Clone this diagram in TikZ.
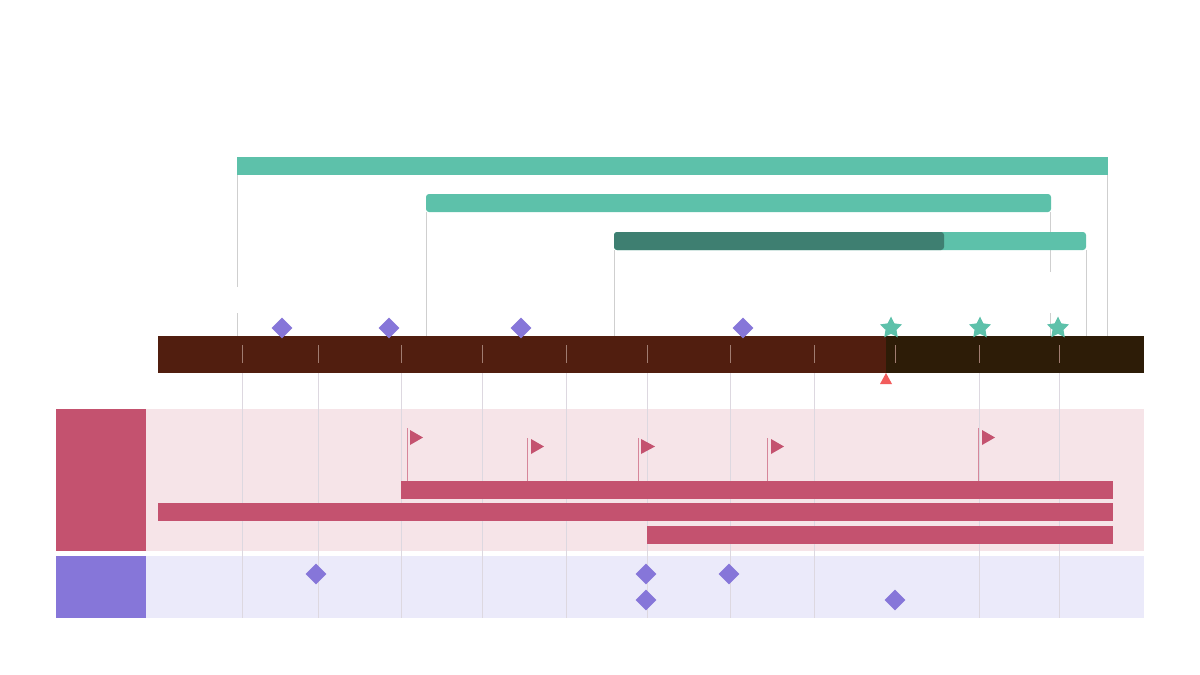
\documentclass[tikz,border=0pt]{standalone}
\usetikzlibrary{shapes.geometric}
\definecolor{brownbar}{HTML}{511E0F}
\definecolor{darkbar}{HTML}{2D1C07}
\definecolor{teal1}{HTML}{5DC1AA}
\definecolor{teal2}{HTML}{3E7F71}
\definecolor{pinkc}{HTML}{C4526F}
\definecolor{pinkbg}{HTML}{F6E4E8}
\definecolor{purc}{HTML}{8676D9}
\definecolor{purbg}{HTML}{EBEAFA}
\definecolor{gridc}{HTML}{DDD8E0}
\definecolor{phasec}{HTML}{CFCFCF}
\definecolor{tickc}{HTML}{A07C70}
\definecolor{nowc}{HTML}{F25C5C}
\tikzset{
  gridline/.style={draw=gridc, line width=0.6pt},
  phaseline/.style={draw=phasec, line width=0.7pt},
  tickline/.style={draw=tickc, line width=0.6pt},
  msdia/.style={diamond, fill=purc, draw=none, minimum size=21pt, inner sep=0pt},
  msstar/.style={star, star points=5, star point ratio=2.0, fill=teal1, draw=none, minimum size=23pt, inner sep=0pt},
  flagpole/.style={draw=pinkc!70, line width=0.6pt},
  flagtri/.style={fill=pinkc},
  pinkbar/.style={fill=pinkc},
}
\begin{document}
\begin{tikzpicture}[x=1pt,y=-1pt]
\useasboundingbox[fill=white] (0,0) rectangle (1200,675);

% lane backgrounds
\fill[pinkbg] (146,409) rectangle (1144,551);
\fill[purbg] (146,556) rectangle (1144,618);
\fill[pinkc] (56,409) rectangle (146,551);
\fill[purc] (56,556) rectangle (146,618);

% grid lines below bar
\foreach \gx in {242,318,401,482,566,647,730,814,979,1059}
  \draw[gridline] (\gx,373) -- (\gx,618);

% phase lines above bar
\draw[phaseline] (237,175) -- (237,287);
\draw[phaseline] (237,313) -- (237,336);
\draw[phaseline] (426,212) -- (426,336);
\draw[phaseline] (614,250) -- (614,336);
\draw[phaseline] (1050,212) -- (1050,272);
\draw[phaseline] (1050,313) -- (1050,336);
\draw[phaseline] (1086,250) -- (1086,336);
\draw[phaseline] (1107,175) -- (1107,336);

% phase bars
\fill[teal1] (237,157) rectangle (1108,175);
\fill[teal1, rounded corners=3pt] (426,194) rectangle (1051,212);
\fill[teal1, rounded corners=3pt] (614,232) rectangle (1086,250);
\fill[teal2, rounded corners=3pt] (614,232) rectangle (944,250);

% timeline bar
\fill[brownbar] (158,336) rectangle (886,373);
\fill[darkbar] (886,336) rectangle (1144,373);
\foreach \tx in {242,318,401,482,566,647,730,814,895,979,1059}
  \draw[tickline] (\tx,345) -- (\tx,363);

% now marker
\fill[nowc] (886,373) -- (892,384) -- (880,384) -- cycle;

% milestones on bar
\node[msdia] (m1) at (282,328) {};
\node[msdia] (m2) at (389,328) {};
\node[msdia] (m3) at (521,328) {};
\node[msdia] (m4) at (743,328) {};
\node[msstar] (s1) at (891,328) {};
\node[msstar] (s2) at (980,328) {};
\node[msstar] (s3) at (1058,328) {};

% flags
\draw[flagpole] (407,428) -- (407,481);
\fill[flagtri] (410,430) -- (423,437.5) -- (410,445) -- cycle;
\draw[flagpole] (527,438) -- (527,481);
\fill[flagtri] (531,439) -- (544,446.5) -- (531,454) -- cycle;
\draw[flagpole] (638,438) -- (638,481);
\fill[flagtri] (641,439) -- (655,446.5) -- (641,454) -- cycle;
\draw[flagpole] (767,438) -- (767,481);
\fill[flagtri] (771,439) -- (784,446.5) -- (771,454) -- cycle;
\draw[flagpole] (978,428) -- (978,481);
\fill[flagtri] (982,430) -- (995,437.5) -- (982,445) -- cycle;

% pink bars
\fill[pinkbar] (401,481) rectangle (1113,499);
\fill[pinkbar] (158,503) rectangle (1113,521);
\fill[pinkbar] (647,526) rectangle (1113,544);

% purple lane milestones
\node[msdia] (d1) at (316,574) {};
\node[msdia] (d2) at (646,574) {};
\node[msdia] (d3) at (729,574) {};
\node[msdia] (d4) at (646,600) {};
\node[msdia] (d5) at (895,600) {};
\end{tikzpicture}
\end{document}
